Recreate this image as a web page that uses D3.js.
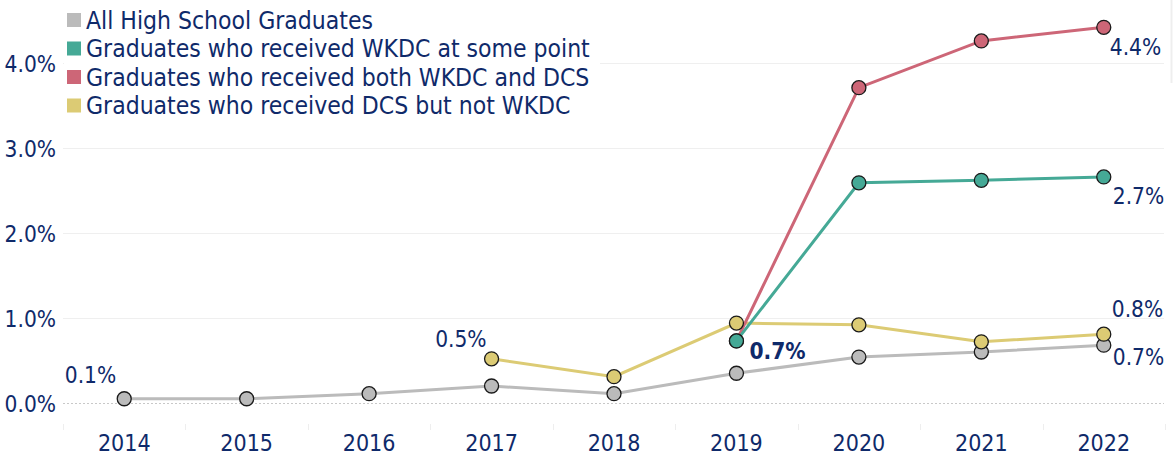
<!DOCTYPE html>
<html>
<head>
<meta charset="utf-8">
<script src="https://cdn.jsdelivr.net/npm/d3@7"></script>
<style>
  html, body { margin: 0; padding: 0; background: #fff; }
  svg { display: block; }
  text { font-family: "DejaVu Sans Condensed", "DejaVu Sans", sans-serif; fill: #0f2a6a; }
</style>
</head>
<body>
<div id="chart"></div>
<script>
// values (percent)
var years = [2014, 2015, 2016, 2017, 2018, 2019, 2020, 2021, 2022];
var allGrads = [0.05, 0.05, 0.11, 0.20, 0.11, 0.35, 0.54, 0.60, 0.68];
var wkdcAny = [null, null, null, null, null, 0.73, 2.59, 2.62, 2.66];
var wkdcDcs = [null, null, null, null, null, 0.73, 3.71, 4.26, 4.42];
var dcsOnly = [null, null, null, 0.52, 0.31, 0.94, 0.92, 0.72, 0.81];
var yTicks = [0, 1, 2, 3, 4];

var seriesNames = ["All High School Graduates", "Graduates who received WKDC at some point",
  "Graduates who received both WKDC and DCS", "Graduates who received DCS but not WKDC"];
var colors = ["#bbbbbb", "#45a996", "#cd6677", "#dccb74"];

var width = 1173, height = 456;
var svg = d3.select("#chart").append("svg").attr("width", width).attr("height", height);

var x = d3.scaleBand().domain(years).range([63, 1165]);
var y = d3.scaleLinear().domain([0, 4]).range([403, 63]);
var cx = d => x(d) + x.bandwidth() / 2;

// gridlines
svg.append("g").selectAll("line").data(yTicks).join("line")
  .attr("x1", 63).attr("x2", 1164)
  .attr("y1", d => Math.round(y(d)) + 0.5).attr("y2", d => Math.round(y(d)) + 0.5)
  .attr("stroke", d => d === 0 ? "#c8c8c8" : "#efefef")
  .attr("stroke-dasharray", d => d === 0 ? "2,2" : null)
  .attr("stroke-width", 1);

// faint frame piece at top right
svg.append("line").attr("x1", 1171.5).attr("x2", 1171.5).attr("y1", 0).attr("y2", 83)
  .attr("stroke", "#eeeeee").attr("stroke-width", 2);

// y axis labels
svg.append("g").selectAll("text").data(yTicks).join("text")
  .attr("x", 56).attr("y", d => y(d) + 1).attr("dy", "0.36em")
  .attr("text-anchor", "end").attr("font-size", 22.5)
  .text(d => d3.format(".1f")(d) + "%");

// x axis: year labels and small tick marks at band edges
var xAxis = svg.append("g").attr("transform", "translate(0,0)")
  .call(d3.axisBottom(x).tickSize(0).tickPadding(0));
xAxis.select(".domain").remove();
xAxis.selectAll("text").attr("font-size", 23).attr("font-family", null)
  .attr("fill", "#0f2a6a").attr("y", 451).attr("dy", 0);
svg.append("g").selectAll("line").data(d3.range(years.length + 1)).join("line")
  .attr("x1", i => Math.round(63 + i * x.step()) + 0.5)
  .attr("x2", i => Math.round(63 + i * x.step()) + 0.5)
  .attr("y1", 424).attr("y2", 430).attr("stroke", "#eeeeee");

var series = [allGrads, wkdcAny, wkdcDcs, dcsOnly];
var line = d3.line().defined(d => d.v != null).x(d => cx(d.year)).y(d => y(d.v));
var toPts = vals => years.map((yr, i) => ({ year: yr, v: vals[i] }));

// draw order: gray, yellow, red, teal
var order = [0, 3, 2, 1];
order.forEach(function (s) {
  svg.append("path").datum(toPts(series[s]))
    .attr("d", line).attr("fill", "none")
    .attr("stroke", colors[s]).attr("stroke-width", 3);
});
order.forEach(function (s) {
  svg.append("g").selectAll("circle").data(toPts(series[s]).filter(d => d.v != null)).join("circle")
    .attr("cx", d => cx(d.year)).attr("cy", d => y(d.v)).attr("r", 7)
    .attr("fill", colors[s]).attr("stroke", "#1a1a1a").attr("stroke-width", 1.3);
});

// value labels
var labels = [
  { s: 0, i: 0, dx: -8, dy: -24, anchor: "end", bold: false },
  { s: 0, i: 8, dx: 9, dy: 12, anchor: "start", bold: false },
  { s: 3, i: 3, dx: -5, dy: -20, anchor: "end", bold: false },
  { s: 3, i: 8, dx: 8, dy: -25, anchor: "start", bold: false },
  { s: 1, i: 8, dx: 9, dy: 19, anchor: "start", bold: false },
  { s: 2, i: 8, dx: 6, dy: 20, anchor: "start", bold: false },
  { s: 1, i: 5, dx: 13, dy: 10, anchor: "start", bold: true }
];
svg.append("g").selectAll("text").data(labels).join("text")
  .attr("x", d => cx(years[d.i]) + d.dx)
  .attr("y", d => y(series[d.s][d.i]) + d.dy)
  .attr("dy", "0.36em")
  .attr("text-anchor", d => d.anchor)
  .attr("font-size", 22.5)
  .attr("font-weight", d => d.bold ? "bold" : null)
  .text(d => d3.format(".1f")(series[d.s][d.i]) + "%");

// legend
var legend = svg.append("g");
legend.append("rect").attr("x", 64).attr("y", 4).attr("width", 536).attr("height", 116).attr("fill", "#fff");
var rows = legend.selectAll("g").data(seriesNames).join("g")
  .attr("transform", (d, i) => "translate(67," + (20 + i * 28.5) + ")");
rows.append("rect").attr("x", 0).attr("y", -7).attr("width", 14).attr("height", 14)
  .attr("fill", (d, i) => colors[i]);
rows.append("text").attr("x", 19).attr("dy", "0.36em").attr("font-size", 24.5).text(d => d);
</script>
</body>
</html>
